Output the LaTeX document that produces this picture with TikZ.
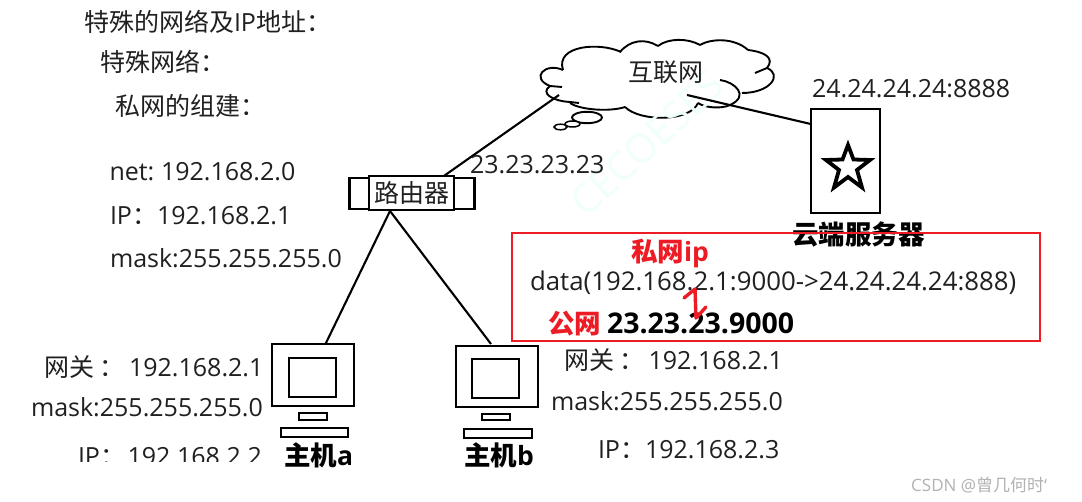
\documentclass[tikz,border=0pt]{standalone}
\usepackage{fontspec}
\setmainfont{Open Sans}
\newfontfamily\zhf{Noto Sans CJK SC}
\newcommand{\zh}[1]{{\zhf #1}}
\definecolor{redbox}{HTML}{ED1C24}
\definecolor{ink}{HTML}{202020}
\definecolor{wm}{HTML}{F0FFF8}
\tikzset{
  txt/.style={anchor=base west,inner sep=0pt,outer sep=0pt,text=ink,font=\fontsize{25}{27}\selectfont},
  bold/.style={anchor=base west,inner sep=0pt,outer sep=0pt,text=black,font=\fontsize{26.5}{28}\selectfont\bfseries},
  redt/.style={anchor=base west,inner sep=0pt,outer sep=0pt,text=redbox,font=\fontsize{26.5}{28}\selectfont\bfseries},
  ln/.style={draw=black,line width=2.1pt},
  cl/.style={draw=black,line width=1.9pt},
  thick box/.style={draw=black,line width=2.3pt,fill=white,inner sep=0pt},
}
\begin{document}
\begin{tikzpicture}[x=1pt,y=-1pt,line join=miter]
\useasboundingbox[fill=white] (0,0) rectangle (1082,502);
\coordinate (cloudL) at (559,95);
\coordinate (cloudR) at (687,95);
\coordinate (srvL) at (815,125);
\coordinate (rtTop) at (441,178);
\coordinate (rtBot) at (390,211);
\coordinate (hostA) at (325,345);
\coordinate (hostB) at (491,344);
% cloud
\fill[white] (563,70) .. controls (545,62) and (530,78) .. (550,86)
 .. controls (540,93) and (552,101) .. (570,102)
 .. controls (580,110) and (610,112) .. (625,107)
 .. controls (640,122) and (690,122) .. (698,103)
 .. controls (705,108) and (722,109) .. (730,105)
 -- (742,93) .. controls (770,93) and (783,75) .. (767,68)
 .. controls (775,58) and (765,52) .. (748,50)
 .. controls (735,38) and (712,38) .. (700,45)
 .. controls (688,38) and (668,38) .. (658,46)
 .. controls (645,38) and (630,40) .. (620,52)
 .. controls (600,42) and (555,45) .. (563,70) -- cycle;
\draw[cl] (563,70) .. controls (545,62) and (530,78) .. (550,86) -- (562,87);
\draw[cl] (550,86) .. controls (540,93) and (552,101) .. (570,102) -- (579,103);
\draw[cl] (570,103) .. controls (580,110) and (610,112) .. (625,107);
\draw[cl] (625,107) .. controls (640,122) and (690,122) .. (698,103);
\draw[cl] (698,103) .. controls (705,108) and (722,109) .. (730,105);
\draw[cl] (720,80) .. controls (735,82) and (750,96) .. (730,105);
\draw[cl] (742,93) .. controls (770,93) and (783,75) .. (767,68) -- (755,73);
\draw[cl] (767,68) .. controls (775,58) and (765,52) .. (748,50);
\draw[cl] (748,50) .. controls (735,38) and (712,38) .. (700,45);
\draw[cl] (700,45) .. controls (688,38) and (668,38) .. (658,46);
\draw[cl] (658,46) .. controls (645,38) and (630,40) .. (620,52);
\draw[cl] (621,52) .. controls (600,42) and (555,45) .. (563,70);
\draw[cl,fill=white] (587,117.5) ellipse (15 and 5.7);
\draw[cl,fill=white,line width=1.5pt] (572.5,124) ellipse (7.5 and 3);
\draw[cl,fill=white,line width=1.5pt] (560.5,127) ellipse (6.5 and 2.8);
% watermark
\node[rotate=43,text=wm,font=\fontsize{40}{42}\selectfont,inner sep=0pt] (wmk) at (647,143) {CECOESES};
\node[txt] (cloudT) at (628,82) {\zh{互联网}};
% lines
\draw[ln] (rtTop) -- (cloudL);
\draw[ln] (cloudR) -- (srvL);
\draw[ln] (rtBot) -- (hostA);
\draw[ln] (rtBot) -- (hostB);
% router
\node[thick box,minimum width=125pt,minimum height=31pt] (rtOuter) at (412,193.5) {};
\node[thick box,minimum width=85pt,minimum height=34pt] (router) at (411.5,193) {};
\node[txt] (rtT) at (374,203) {\zh{路由器}};
\node[txt] (rtIp) at (470,174) {23.23.23.23};
% server
\node[thick box,minimum width=69pt,minimum height=104pt] (server) at (845.5,161) {};
\draw[black,line width=3.8pt]
 (848,145) -- (853.5,159.5) -- (870,160) -- (857,170) -- (862,187.5) -- (848,177) -- (834,187.5) -- (839,170) -- (826,160) -- (842.5,159.5) -- cycle;
\node[txt] (srvIp) at (812,98) {24.24.24.24:8888};
\node[bold] (srvT) at (792,245) {\zh{云端服务器}};
% red box
\node[draw=redbox,line width=1.7pt,minimum width=528pt,minimum height=107.5pt,inner sep=0pt] (rbox) at (776,287) {};
\node[redt] (privT) at (631,262) {\zh{私网}ip};
\node[txt,font=\fontsize{25.8}{27}\selectfont] (dataT) at (530,291) {data(192.168.2.1:9000->24.24.24.24:888)};
\node[bold,font=\fontsize{28.5}{30}\selectfont\bfseries] (pubIp) at (607,334) {23.23.23.9000};
\node[redt] (pubT) at (548,334) {\zh{公网}};
\draw[redbox,line width=3.4pt,line cap=round,line join=round] (684,298) -- (695,289) -- (696,318) -- (706,307);
% left texts
\node[txt] (t1) at (84,32) {\zh{特殊的网络及}IP\zh{地址：}};
\node[txt] (t2) at (100,72) {\zh{特殊网络：}};
\node[txt] (t3) at (115,116) {\zh{私网的组建：}};
\node[txt] (n1) at (109.5,181) {net:\hspace{-2pt} 192.168.2.0};
\node[txt] (n2) at (110,225) {IP\zh{：}192.168.2.1};
\node[txt] (n3) at (110,268) {mask:255.255.255.0};
% host a texts
\node[txt] (a1) at (44,377) {\zh{网关 ：}\hspace{-2pt} 192.168.2.1};
\node[txt] (a2) at (31,417) {mask:255.255.255.0};
\node[txt] (a3) at (78,465) {IP\zh{：}\hspace{-4pt} 192.168.2.2};
% host b texts
\node[txt] (b1) at (564,370) {\zh{网关 ：}\hspace{4pt}192.168.2.1};
\node[txt] (b2) at (551,411) {mask:255.255.255.0};
\node[txt] (b3) at (598,459) {IP\zh{：}192.168.2.3};
\fill[white] (60,462.5) rectangle (280,480);
% host a drawing
\node[thick box,minimum width=82pt,minimum height=62pt] (ha) at (313,375) {};
\node[thick box,minimum width=47pt,minimum height=39pt] (has) at (312.5,377.5) {};
\node[thick box,minimum width=28pt,minimum height=7pt] (hab) at (313,416.5) {};
\node[thick box,minimum width=67pt,minimum height=9pt] (hak) at (314.5,432.5) {};
\node[bold] (haT) at (284,465) {\zh{主机}a};
% host b drawing
\node[thick box,minimum width=82pt,minimum height=61pt] (hb) at (497,376.5) {};
\node[thick box,minimum width=47pt,minimum height=39pt] (hbs) at (495.5,378.5) {};
\node[thick box,minimum width=28pt,minimum height=6.5pt] (hbb) at (496,417) {};
\node[thick box,minimum width=68pt,minimum height=9pt] (hbk) at (498,433.5) {};
\node[bold] (hbT) at (464,465) {\zh{主机}b};
% csdn
\node[anchor=base west,inner sep=0pt,text=black!30,font=\fontsize{17}{19}\selectfont] (csdn) at (911,491) {CSDN @\zh{曾几何时}`};
\end{tikzpicture}
\end{document}
